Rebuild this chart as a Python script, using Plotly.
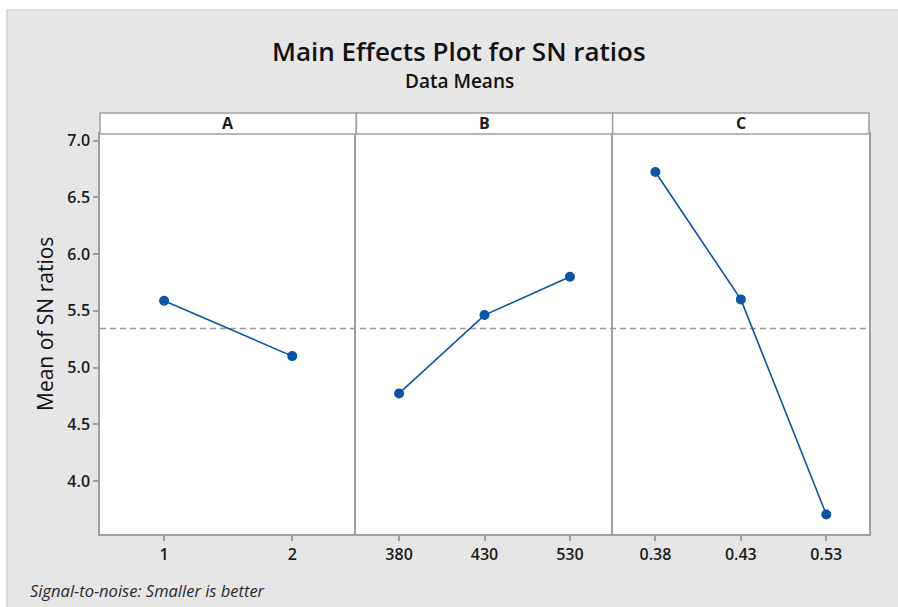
import numpy as np
import plotly.graph_objects as go
from plotly.subplots import make_subplots

# ---- data ----
factors = ["A", "B", "C"]
levels_A = ["1", "2"]
levels_B = ["380", "430", "530"]
levels_C = ["0.38", "0.43", "0.53"]
sn_A = [5.589, 5.101]
sn_B = [4.772, 5.463, 5.800]
sn_C = [6.724, 5.601, 3.705]
y_ticks = [4.0, 4.5, 5.0, 5.5, 6.0, 6.5, 7.0]

levels = [levels_A, levels_B, levels_C]
values = [sn_A, sn_B, sn_C]
overall_mean = float(np.mean([np.mean(v) for v in values]))

FONT = "Open Sans"
BLUE = "#0a55a5"
GRID = "#a0a0a0"
TXT = "#1a1a1a"

fig = make_subplots(rows=1, cols=3, shared_yaxes=True, horizontal_spacing=0)

for i, (lv, vals) in enumerate(zip(levels, values), start=1):
    fig.add_trace(go.Scatter(
        x=lv, y=vals, mode="lines+markers",
        line=dict(color=BLUE, width=1.6),
        marker=dict(color=BLUE, size=10, symbol="circle"),
        showlegend=False, hoverinfo="x+y"), row=1, col=i)
    n = len(lv)
    fig.update_xaxes(type="category", categoryorder="array", categoryarray=lv,
                     range=[-0.5, n - 0.5], showline=True, linecolor=GRID, linewidth=1.5,
                     mirror=True, ticks="outside", ticklen=5, tickcolor=GRID, tickwidth=1.5,
                     showgrid=False, zeroline=False,
                     tickfont=dict(family=FONT, size=16, color=TXT, weight=600),
                     row=1, col=i)
    fig.update_yaxes(range=[3.533, 7.059], showline=True, linecolor=GRID, linewidth=1.5,
                     mirror=(i == 3), showgrid=False, zeroline=False,
                     tickvals=y_ticks, ticktext=[f"{t:.1f}" for t in y_ticks],
                     ticks="outside" if i == 1 else "", ticklen=5, tickcolor=GRID, tickwidth=1.5,
                     showticklabels=(i == 1),
                     tickfont=dict(family=FONT, size=16, color=TXT, weight=600),
                     row=1, col=i)

# reference (overall mean) line
fig.add_shape(type="line", xref="paper", yref="y", x0=0, x1=1,
              y0=overall_mean, y1=overall_mean,
              line=dict(color="#999999", width=1.5, dash="6px,4px"), layer="below")

# geometry helpers (pixels -> paper coordinates)
H = 400.0
W = 768.7
L = 100.0
T = 134.0
def px_x(px):
    return (px - L) / W
def px_y(py):
    return (T + H - py) / H

# white outer borders (figure edge outside grey panel)
fig.add_shape(type="rect", xref="paper", yref="paper",
              x0=px_x(-5), x1=px_x(905), y0=px_y(10), y1=px_y(-5),
              fillcolor="white", line=dict(width=0), layer="above")
fig.add_shape(type="rect", xref="paper", yref="paper",
              x0=px_x(-5), x1=px_x(7), y0=px_y(612), y1=px_y(-5),
              fillcolor="white", line=dict(width=0), layer="above")
fig.add_shape(type="line", xref="paper", yref="paper",
              x0=px_x(7), x1=px_x(900), y0=px_y(10), y1=px_y(10),
              line=dict(color="#c8c8c8", width=1.2), layer="above")
fig.add_shape(type="line", xref="paper", yref="paper",
              x0=px_x(7), x1=px_x(7), y0=px_y(10), y1=px_y(610),
              line=dict(color="#c8c8c8", width=1.2), layer="above")

# strip headers
for i, f in enumerate(factors):
    x0 = i / 3
    x1 = (i + 1) / 3
    fig.add_shape(type="rect", xref="paper", yref="paper", x0=x0, x1=x1,
                  y0=1, y1=px_y(113), fillcolor="white",
                  line=dict(color=GRID, width=1.5), layer="above")
    fig.add_annotation(text=f"<b>{f}</b>", xref="paper", yref="paper",
                       x=(x0 + x1) / 2, y=px_y(123.5), showarrow=False,
                       font=dict(family=FONT, size=16, color=TXT),
                       xanchor="center", yanchor="middle")

# titles
fig.add_annotation(text="Main Effects Plot for SN ratios", xref="paper", yref="paper",
                   x=px_x(459), y=px_y(51), showarrow=False, xanchor="center", yanchor="middle",
                   font=dict(family=FONT, size=26, color="#111111", weight=600))
fig.add_annotation(text="Data Means", xref="paper", yref="paper",
                   x=px_x(459), y=px_y(81), showarrow=False, xanchor="center", yanchor="middle",
                   font=dict(family=FONT, size=19, color="#111111", weight=600))
fig.add_annotation(text="Mean of SN ratios", xref="paper", yref="paper",
                   x=px_x(45), y=px_y(324), showarrow=False, xanchor="center", yanchor="middle",
                   textangle=-90, font=dict(family=FONT, size=21, color="#111111"))
fig.add_annotation(text="<i>Signal-to-noise: Smaller is better</i>", xref="paper", yref="paper",
                   x=px_x(28), y=px_y(590), showarrow=False, xanchor="left", yanchor="middle",
                   font=dict(family=FONT, size=16.5, color="#2a2a2a"))

fig.update_layout(
    width=898, height=607,
    margin=dict(l=100, r=898 - 100 - 768.7, t=134, b=607 - 534),
    paper_bgcolor="#e6e6e6", plot_bgcolor="white",
    font=dict(family=FONT),
    showlegend=False,
)

fig.write_html("out.html", config={"displayModeBar": False},
               post_script="document.body.style.margin='0';document.body.style.padding='0';")
